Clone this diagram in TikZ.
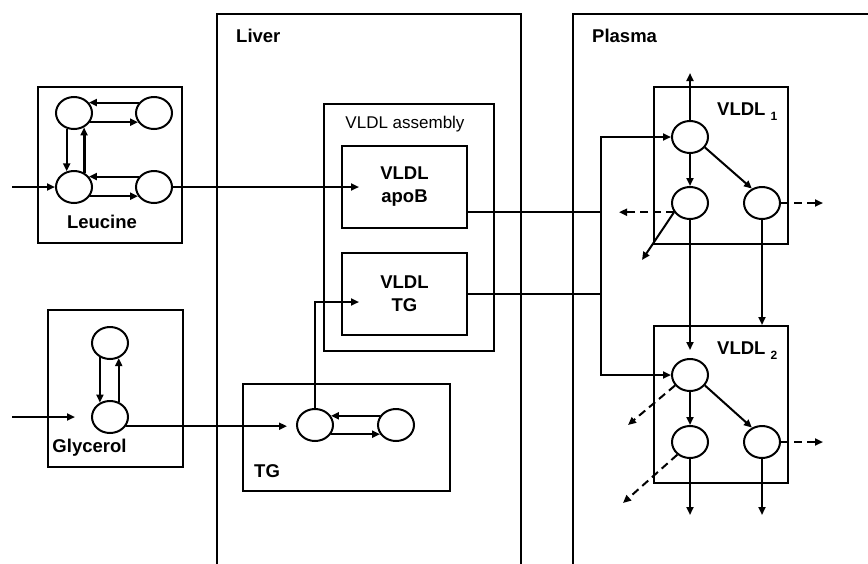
\documentclass[tikz,border=0pt]{standalone}
\usepackage{fontspec}
\setmainfont{Liberation Sans}
\usetikzlibrary{shapes.geometric,arrows.meta}
\tikzset{
  pool/.style={draw, ellipse, minimum width=36pt, minimum height=32pt, inner sep=0pt, line width=2pt},
  box/.style={draw, line width=2pt},
  con/.style={line width=2pt},
  arr/.style={con, -{Triangle[length=8pt,width=7pt]}},
  darr/.style={arr, dash pattern=on 8pt off 5pt},
  lab/.style={font=\bfseries\fontsize{18.5}{23}\selectfont, inner sep=0pt},
  panel/.style={line width=2.5pt},
}
\begin{document}
\begin{tikzpicture}[x=1pt,y=-1pt]
\useasboundingbox (0,0) rectangle (868,563);
% ---------- Leucine ----------
\draw[box] (38,87) rectangle (182,243);
\node[pool] (L1) at (74,113) {};
\node[pool] (L2) at (154,113) {};
\node[pool] (L3) at (74,187) {};
\node[pool] (L4) at (154,187) {};
\node[lab, anchor=base] (leu) at (102,228) {Leucine};
\coordinate (lin) at (12,187);
\draw[arr] (lin) -- (L3.west);
\draw[arr] (L2.145) -- (L1.35);
\draw[arr] (L1.-30) -- (L2.-150);
\draw[arr] (L1.-115) -- (L3.115);
\draw[arr, line width=3pt] (L3.55) -- (L1.-55);
\draw[arr] (L4.145) -- (L3.35);
\draw[arr] (L3.-30) -- (L4.-150);
% ---------- Glycerol ----------
\draw[box] (48,310) rectangle (183,467);
\node[pool] (G1) at (110,343) {};
\node[pool] (G2) at (110,417) {};
\node[lab, anchor=base] (gly) at (89.5,452) {Glycerol};
\draw[arr] (G1.-125) -- (G2.125);
\draw[arr] (G2.60) -- (G1.-60);
\coordinate (gin) at (12,417);
\coordinate (gtip) at (75,417);
\draw[arr] (gin) -- (gtip);
% ---------- Liver ----------
\draw[panel] (217,580) -- (217,14) -- (521,14) -- (521,580);
\node[lab, anchor=base west] (liver) at (236,42) {Liver};
% TG pool
\draw[box] (243,384) rectangle (450,491);
\node[pool] (T1) at (315,425) {};
\node[pool] (T2) at (396,425) {};
\node[lab, anchor=base west] (tglab) at (254,477) {TG};
\coordinate (tgin) at (287,425);
\draw[arr] (G2.-30) -- (tgin |- G2.-30);
\draw[arr] (T2.150) -- (T1.30);
\draw[arr] (T1.-30) -- (T2.-150);
% VLDL assembly
\draw[box] (324,104) rectangle (494,351);
\node[font=\fontsize{17}{17}\selectfont, anchor=base, inner sep=0pt] (asm) at (405,128) {VLDL assembly};
\node[box, lab, align=center, minimum width=125pt, minimum height=82pt] (apob) at (404.5,187) {VLDL\\apoB};
\node[box, lab, align=center, minimum width=125pt, minimum height=82pt] (vtg) at (404.5,294) {VLDL\\TG};
\coordinate (atip) at (359,187);
\draw[arr] (L4.east) -- (atip);
\coordinate (ttip) at (359,302);
\draw[arr] (T1.north) |- (ttip);
% ---------- Plasma ----------
\draw[panel] (573,580) -- (573,14) -- (880,14);
\node[lab, anchor=base west] (plasma) at (592,42) {Plasma};
% VLDL1
\draw[box] (654,87) rectangle (788,244);
\node[lab, anchor=base west] (v1lab) at (717,115) {VLDL\hspace{5pt}\raisebox{-5pt}{\fontsize{12}{12}\selectfont 1}};
\node[pool] (V1a) at (690,137) {};
\node[pool] (V1b) at (690,203) {};
\node[pool] (V1c) at (762,203) {};
% VLDL2
\draw[box] (654,326) rectangle (788,483);
\node[lab, anchor=base west] (v2lab) at (717,354) {VLDL\hspace{5pt}\raisebox{-5pt}{\fontsize{12}{12}\selectfont 2}};
\node[pool] (V2a) at (690,375) {};
\node[pool] (V2b) at (690,442) {};
\node[pool] (V2c) at (762,442) {};
% trunk
\coordinate (j) at (601,294);
\draw[con] ([yshift=-25pt]apob.east) -- ([yshift=-25pt]apob.east -| j);
\draw[con] (vtg.east) -- (j);
\draw[arr] (j) |- (V1a.west);
\draw[arr] (j) |- (V2a.west);
% VLDL1 arrows
\coordinate (v1up) at (690,73);
\draw[arr] (V1a.north) -- (v1up);
\draw[arr] (V1a.south) -- (V1b.north);
\draw[arr] (V1a.-35) -- (V1c.125);
\coordinate (v1r) at (823,203);
\draw[darr] (V1c.east) -- (v1r);
\coordinate (v1l) at (619,212);
\draw[darr] (V1b.210) -- (v1l |- V1b.210);
\coordinate (v1d) at (642,260);
\draw[arr] (V1b.210) -- (v1d);
\coordinate (v2top) at (690,350);
\draw[arr] (V1b.south) -- (v2top);
\coordinate (v2box) at (762,325);
\draw[arr] (V1c.south) -- (v2box);
% VLDL2 arrows
\draw[arr] (V2a.south) -- (V2b.north);
\draw[arr] (V2a.-35) -- (V2c.125);
\coordinate (v2dl) at (628,425);
\draw[darr] (V2a.215) -- (v2dl);
\coordinate (v2dl2) at (623,503);
\draw[darr] (V2b.225) -- (v2dl2);
\coordinate (v2r) at (823,442);
\draw[darr] (V2c.east) -- (v2r);
\coordinate (v2d1) at (690,515);
\coordinate (v2d2) at (762,515);
\draw[arr] (V2b.south) -- (v2d1);
\draw[arr] (V2c.south) -- (v2d2);
\end{tikzpicture}
\end{document}
